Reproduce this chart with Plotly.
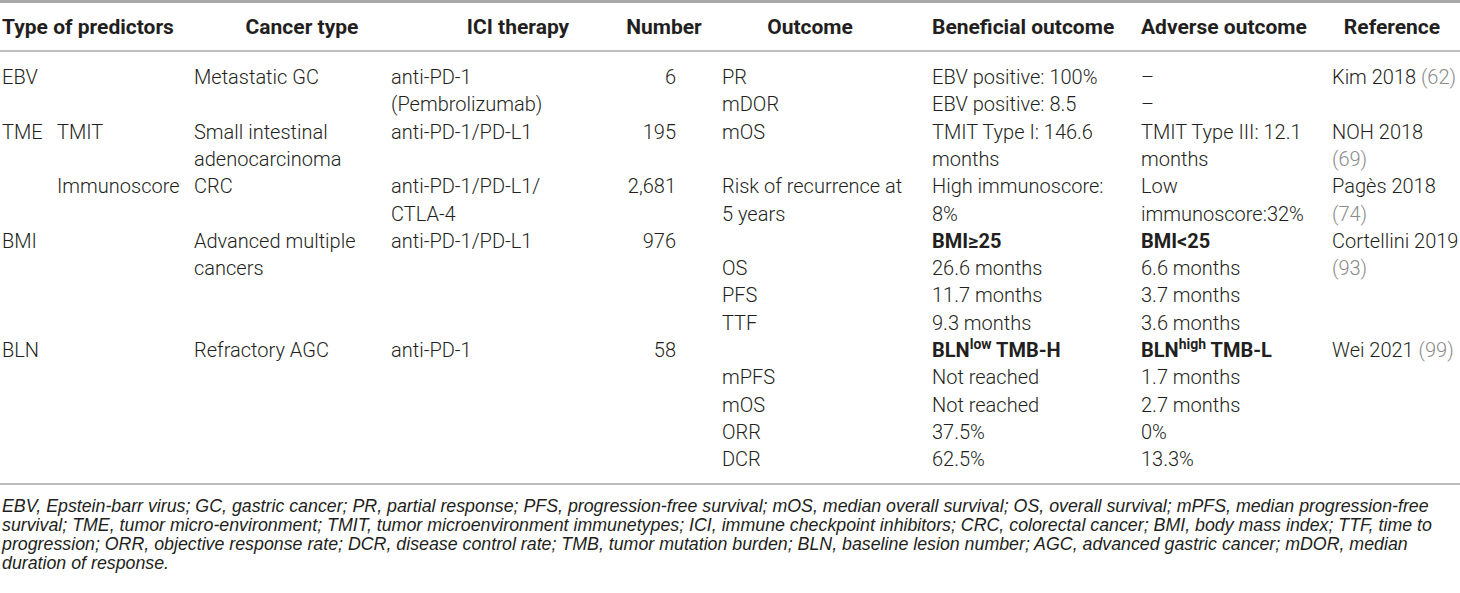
import re

import plotly.graph_objects as go

# table content, one entry per printed text line
predictor = ["EBV", "", "TME", "", "", "", "BMI", "", "", "", "BLN", "", "", "", ""]
sub_predictor = ["", "", "TMIT", "", "Immunoscore", "", "", "", "", "", "", "", "", "", ""]
cancer_type = ["Metastatic GC", "", "Small intestinal", "adenocarcinoma", "CRC", "",
               "Advanced multiple", "cancers", "", "", "Refractory AGC", "", "", "", ""]
ici_therapy = ["anti-PD-1", "(Pembrolizumab)", "anti-PD-1/PD-L1", "", "anti-PD-1/PD-L1/", "CTLA-4",
               "anti-PD-1/PD-L1", "", "", "", "anti-PD-1", "", "", "", ""]
number = ["6", "", "195", "", "2,681", "", "976", "", "", "", "58", "", "", "", ""]
outcome = ["PR", "mDOR", "mOS", "", "Risk of recurrence at", "5 years", "", "OS", "PFS", "TTF",
           "", "mPFS", "mOS", "ORR", "DCR"]
beneficial = ["EBV positive: 100%", "EBV positive: 8.5", "TMIT Type I: 146.6", "months",
              "High immunoscore:", "8%", "BMI≥25", "26.6 months", "11.7 months", "9.3 months",
              "BLN<sup>low</sup> TMB-H", "Not reached", "Not reached", "37.5%", "62.5%"]
adverse = ["–", "–", "TMIT Type III: 12.1", "months", "Low", "immunoscore:32%", "BMI&lt;25",
           "6.6 months", "3.7 months", "3.6 months", "BLN<sup>high</sup> TMB-L", "1.7 months",
           "2.7 months", "0%", "13.3%"]
reference = ["Kim 2018 (62)", "", "NOH 2018", "(69)", "Pagès 2018", "(74)", "Cortellini 2019", "(93)",
             "", "", "Wei 2021 (99)", "", "", "", ""]
subgroup_rows = [6, 10]  # lines that name the compared groups

headers = ["Type of predictors", "Cancer type", "ICI therapy", "Number", "Outcome",
           "Beneficial outcome", "Adverse outcome", "Reference"]

footnote = [
    "EBV, Epstein-barr virus; GC, gastric cancer; PR, partial response; PFS, progression-free survival; "
    "mOS, median overall survival; OS, overall survival; mPFS, median progression-free",
    "survival; TME, tumor micro-environment; TMIT, tumor microenvironment immunetypes; ICI, immune "
    "checkpoint inhibitors; CRC, colorectal cancer; BMI, body mass index; TTF, time to",
    "progression; ORR, objective response rate; DCR, disease control rate; TMB, tumor mutation burden; "
    "BLN, baseline lesion number; AGC, advanced gastric cancer; mDOR, median",
    "duration of response.",
]

# layout (pixels)
W, H = 1460, 593
ROW0, ROW_STEP = 79, 27.3
HEAD_Y = 29
FOOT0, FOOT_STEP = 508, 19
TEXT = "#231f20"
RULE = "#a8a8a8"
FONT = "Roboto"
SIZE = 20
HEAD_SIZE = 21


def row_y(i):
    return ROW0 + ROW_STEP * i


def bold_groups(values):
    return [f"<b>{v}</b>" if i in subgroup_rows and v else v for i, v in enumerate(values)]


def grey_refs(values):
    return [re.sub(r"\((\d+)\)", r'<span style="color:#8a8a8a">(\1)</span>', v) for v in values]


columns = [
    (predictor, 2, "middle right"),
    (sub_predictor, 57, "middle right"),
    (cancer_type, 194, "middle right"),
    (ici_therapy, 391, "middle right"),
    (number, 676, "middle left"),
    (outcome, 722, "middle right"),
    (bold_groups(beneficial), 932, "middle right"),
    (bold_groups(adverse), 1141, "middle right"),
    (grey_refs(reference), 1332, "middle right"),
]
header_pos = [(2, "middle right"), (302, "middle center"), (518, "middle center"),
              (664, "middle center"), (810, "middle center"), (932, "middle right"),
              (1141, "middle right"), (1392, "middle center")]

fig = go.Figure()

for values, x, pos in columns:
    keep = [i for i, v in enumerate(values) if v]
    fig.add_trace(go.Scatter(
        x=[x] * len(keep), y=[row_y(i) for i in keep], text=[values[i] for i in keep],
        mode="text", textposition=pos, hoverinfo="skip", showlegend=False,
        textfont=dict(family=FONT, size=SIZE, color=TEXT, weight=300),
    ))

for label, (x, pos) in zip(headers, header_pos):
    fig.add_trace(go.Scatter(
        x=[x], y=[HEAD_Y], text=[f"<b>{label}</b>"], mode="text", textposition=pos,
        hoverinfo="skip", showlegend=False,
        textfont=dict(family=FONT, size=HEAD_SIZE, color=TEXT),
    ))

fig.add_trace(go.Scatter(
    x=[2] * len(footnote), y=[FOOT0 + FOOT_STEP * i for i in range(len(footnote))],
    text=[f"<i>{t}</i>" for t in footnote], mode="text", textposition="middle right",
    hoverinfo="skip", showlegend=False,
    textfont=dict(family="Liberation Sans", size=17.8, color=TEXT),
))

for y, w in [(1.5, 3), (51, 1.5), (484, 1.5)]:
    fig.add_shape(type="line", xref="paper", x0=0, x1=1, y0=y, y1=y, line=dict(color=RULE, width=w))

fig.update_layout(
    width=W, height=H, margin=dict(l=0, r=0, t=0, b=0),
    paper_bgcolor="white", plot_bgcolor="white",
    xaxis=dict(range=[0, W], visible=False, fixedrange=True),
    yaxis=dict(range=[H, 0], visible=False, fixedrange=True),
)

# the page body has a default 8px margin; drop it so the table sits at the window edge
fig.write_html("out.html", config={"displayModeBar": False},
               post_script="document.body.style.margin = '0';")
